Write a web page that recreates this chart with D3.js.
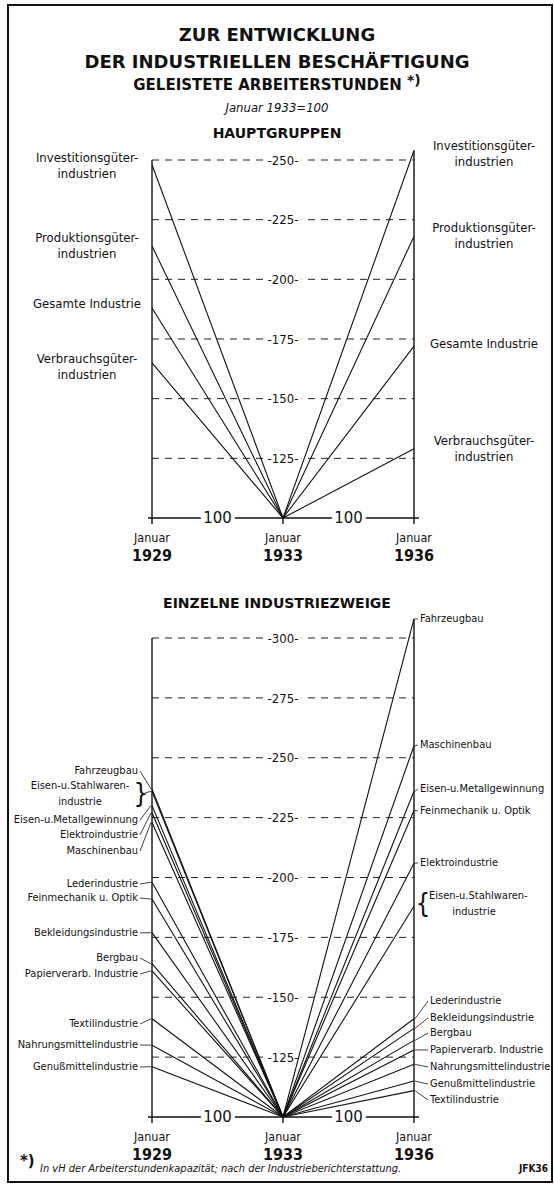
<!DOCTYPE html>
<html>
<head>
<meta charset="utf-8">
<script src="https://cdn.jsdelivr.net/npm/d3@7"></script>
<style>
  body { margin: 0; background: #fff; }
  svg { display: block; }
  text { fill: #111; }
</style>
</head>
<body>
<div id="chart"></div>
<script>
// --- data (Januar 1933 = 100) ---
const years = ["1929", "1933", "1936"];
const topTicks = [125, 150, 175, 200, 225, 250];
const bottomTicks = [125, 150, 175, 200, 225, 250, 275, 300];

const mainGroups = ["Investitionsgüter-|industrien", "Produktionsgüter-|industrien", "Gesamte Industrie", "Verbrauchsgüter-|industrien"];
const main1929 = [248, 214, 188, 165];
const main1936 = [254, 218, 172, 129];

const branches = ["Fahrzeugbau", "Eisen-u.Stahlwaren-|industrie", "Eisen-u.Metallgewinnung", "Elektroindustrie",
  "Maschinenbau", "Lederindustrie", "Feinmechanik u. Optik", "Bekleidungsindustrie", "Bergbau",
  "Papierverarb. Industrie", "Textilindustrie", "Nahrungsmittelindustrie", "Genußmittelindustrie"];
const branch1929 = [237, 236, 230, 227, 223, 198, 191, 177, 164, 161, 141, 130, 121];
const branch1936 = [308, 188, 236, 206, 255, 141, 228, 137, 132, 128, 111, 122, 115];

// label placement (layout only)
const mainLeftY = [157, 237, 303, 358];
const mainRightY = [145, 227, 343, 440];
const branchLeftY = [770, 785, 819, 834, 850, 883, 897, 932, 957, 973, 1023, 1044, 1066];
const branchRightY = [618, 895, 788, 862, 744, 1000, 810, 1017, 1032, 1049, 1099, 1066, 1083];

const W = 554, H = 1185;
const svg = d3.select("#chart").append("svg")
  .attr("width", W).attr("height", H);

const font = "'DejaVu Sans Condensed', 'DejaVu Sans', sans-serif";
const boldFont = "'DejaVu Sans', sans-serif";

// frame
svg.append("rect")
  .attr("x", 8).attr("y", 5).attr("width", 544).attr("height", 1177)
  .attr("fill", "none").attr("stroke", "#111").attr("stroke-width", 2);

// titles
const titles = [
  { t: "ZUR ENTWICKLUNG", y: 35, size: 18, w: "bold", style: "normal" },
  { t: "DER INDUSTRIELLEN BESCHÄFTIGUNG", y: 62, size: 18, w: "bold", style: "normal" },
  { t: "Januar 1933=100", y: 107, size: 13, w: "normal", style: "italic" },
  { t: "HAUPTGRUPPEN", y: 133, size: 14, w: "bold", style: "normal" },
  { t: "EINZELNE INDUSTRIEZWEIGE", y: 603, size: 14, w: "bold", style: "normal" }
];
svg.selectAll(".title").data(titles).enter().append("text")
  .attr("class", "title")
  .attr("x", 277).attr("y", d => d.y).attr("dy", "0.36em")
  .attr("text-anchor", "middle")
  .style("font-family", d => d.style === "italic" ? font : boldFont)
  .style("font-size", d => d.size + "px")
  .style("font-weight", d => d.w)
  .style("font-style", d => d.style)
  .text(d => d.t);

// subtitle with footnote mark
const sub = svg.append("text").attr("x", 277).attr("y", 85).attr("dy", "0.36em")
  .attr("text-anchor", "middle")
  .style("font-family", boldFont).style("font-size", "15px").style("font-weight", "bold");
sub.append("tspan").text("GELEISTETE ARBEITERSTUNDEN ");
sub.append("tspan").attr("dy", "-5").style("font-size", "14px").text("*)");

const x = d3.scalePoint().domain(years).range([152, 414]);

function drawPanel(opts) {
  const { y, ticks, names, v29, v36, topRight } = opts;
  const g = svg.append("g");
  const x0 = x(years[0]), x1 = x(years[1]), x2 = x(years[2]);
  const top = ticks[ticks.length - 1];

  // dashed grid with centred labels
  g.selectAll(".grid").data(ticks).enter().append("line")
    .attr("x1", x0).attr("x2", x2)
    .attr("y1", d => y(d)).attr("y2", d => y(d))
    .attr("stroke", "#222").attr("stroke-width", 1)
    .attr("stroke-dasharray", "7,6");
  g.selectAll(".glab").data(ticks).enter().append("text")
    .attr("x", x1).attr("y", d => y(d)).attr("dy", "0.36em")
    .attr("text-anchor", "middle")
    .style("font-family", font).style("font-size", "13px")
    .attr("stroke", "#fff").attr("stroke-width", 7).attr("paint-order", "stroke")
    .text(d => "-" + d + "-");

  // axes
  g.append("line").attr("x1", x0).attr("x2", x0).attr("y1", y(top)).attr("y2", y(100) + 6)
    .attr("stroke", "#111").attr("stroke-width", 1.4);
  g.append("line").attr("x1", x2).attr("x2", x2).attr("y1", y(topRight)).attr("y2", y(100) + 6)
    .attr("stroke", "#111").attr("stroke-width", 1.4);
  g.append("line").attr("x1", x1).attr("x2", x1).attr("y1", y(100)).attr("y2", y(100) + 6)
    .attr("stroke", "#111").attr("stroke-width", 1.4);
  g.append("line").attr("x1", x0 - 4).attr("x2", x2 + 5).attr("y1", y(100)).attr("y2", y(100))
    .attr("stroke", "#111").attr("stroke-width", 1.4);
  [(x0 + x1) / 2, (x1 + x2) / 2].forEach(cx => {
    g.append("text").attr("x", cx).attr("y", y(100)).attr("dy", "0.36em")
      .attr("text-anchor", "middle")
      .style("font-family", boldFont).style("font-size", "15px")
      .attr("stroke", "#fff").attr("stroke-width", 8).attr("paint-order", "stroke")
      .text("100");
  });

  // year labels
  years.forEach(yr => {
    g.append("text").attr("x", x(yr)).attr("y", y(100) + 19).attr("dy", "0.36em")
      .attr("text-anchor", "middle")
      .style("font-family", font).style("font-size", "12.5px").text("Januar");
    g.append("text").attr("x", x(yr)).attr("y", y(100) + 37).attr("dy", "0.36em")
      .attr("text-anchor", "middle")
      .style("font-family", font).style("font-size", "16px").style("font-weight", "bold").text(yr);
  });

  // series lines
  const line = d3.line().x(d => x(d.yr)).y(d => y(d.v));
  g.selectAll(".series").data(names).enter().append("path")
    .attr("d", (n, i) => line([{ yr: years[0], v: v29[i] }, { yr: years[1], v: 100 }, { yr: years[2], v: v36[i] }]))
    .attr("fill", "none").attr("stroke", "#111").attr("stroke-width", 1.1);
  return g;
}

function multiLine(g, txt, cx, cy, anchor, size, gap) {
  const parts = txt.split("|");
  parts.forEach((p, k) => {
    g.append("text").attr("x", cx).attr("y", cy + k * gap).attr("dy", "0.36em")
      .attr("text-anchor", anchor)
      .style("font-family", font).style("font-size", size + "px")
      .text(p);
  });
}

// ---- upper panel ----
const yTop = d3.scaleLinear().domain([100, 250]).range([518, 160]);
const gTop = drawPanel({ y: yTop, ticks: topTicks, names: mainGroups, v29: main1929, v36: main1936, topRight: 254 });
mainGroups.forEach((n, i) => {
  multiLine(gTop, n, 87, mainLeftY[i], "middle", 13, 16);
  multiLine(gTop, n, 484, mainRightY[i], "middle", 13, 16);
});

// ---- lower panel ----
const yBot = d3.scaleLinear().domain([100, 300]).range([1117, 638]);
const gBot = drawPanel({ y: yBot, ticks: bottomTicks, names: branches, v29: branch1929, v36: branch1936, topRight: 308 });
const xl = x(years[0]), xr = x(years[2]);
branches.forEach((n, i) => {
  const ly = branchLeftY[i], ry = branchRightY[i];
  if (n.includes("|")) {
    // bracketed two-line labels
    multiLine(gBot, n, 80, ly, "middle", 11, 16);
    gBot.append("text").attr("x", 141).attr("y", ly + 8).attr("dy", "0.36em")
      .attr("text-anchor", "middle").style("font-family", font).style("font-size", "26px")
      .style("font-weight", "200").text("}");
    gBot.append("line").attr("x1", 145).attr("y1", ly + 8).attr("x2", xl - 1).attr("y2", yBot(branch1929[i]))
      .attr("stroke", "#111").attr("stroke-width", 0.8);
    gBot.append("text").attr("x", 423).attr("y", ry + 8).attr("dy", "0.36em")
      .attr("text-anchor", "middle").style("font-family", font).style("font-size", "26px")
      .style("font-weight", "200").text("{");
    const parts = n.split("|");
    gBot.append("text").attr("x", 429).attr("y", ry).attr("dy", "0.36em")
      .style("font-family", font).style("font-size", "11px").text(parts[0]);
    gBot.append("text").attr("x", 474).attr("y", ry + 16).attr("dy", "0.36em")
      .attr("text-anchor", "middle").style("font-family", font).style("font-size", "11px").text(parts[1]);
    return;
  }
  gBot.append("text").attr("x", 138).attr("y", ly).attr("dy", "0.36em")
    .attr("text-anchor", "end").style("font-family", font).style("font-size", "11px").text(n);
  gBot.append("line").attr("x1", 140).attr("y1", ly + 1).attr("x2", xl - 1).attr("y2", yBot(branch1929[i]))
    .attr("stroke", "#111").attr("stroke-width", 0.8);

  const near = Math.abs(yBot(branch1936[i]) - ry) < 6 && branch1936[i] > 180;
  const lx = near ? 420 : 430;
  gBot.append("text").attr("x", lx).attr("y", ry).attr("dy", "0.36em")
    .style("font-family", font).style("font-size", "11px").text(n);
  gBot.append("line").attr("x1", xr + 1).attr("y1", yBot(branch1936[i])).attr("x2", lx - 2).attr("y2", ry + 1)
    .attr("stroke", "#111").attr("stroke-width", 0.8);
});

// footnote
svg.append("text").attr("x", 20).attr("y", 1166)
  .style("font-family", boldFont).style("font-size", "15px").style("font-weight", "bold").text("*)");
svg.append("text").attr("x", 40).attr("y", 1172)
  .style("font-family", font).style("font-size", "11px").style("font-style", "italic")
  .text("In vH der Arbeiterstundenkapazität; nach der Industrieberichterstattung.");
svg.append("text").attr("x", 548).attr("y", 1172).attr("text-anchor", "end")
  .style("font-family", font).style("font-size", "10px").style("font-weight", "bold")
  .text("JFK36");
</script>
</body>
</html>
